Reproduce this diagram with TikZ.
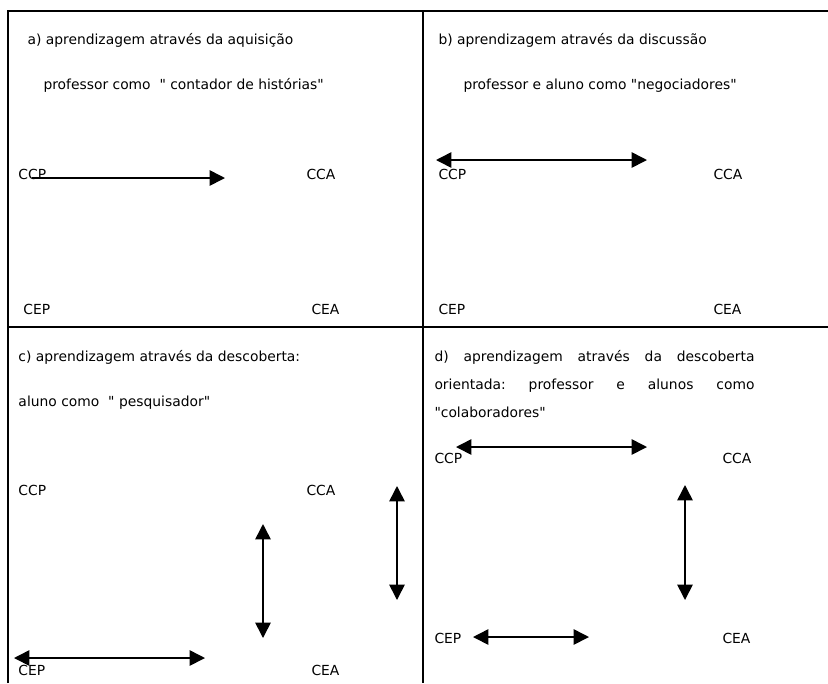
\documentclass[tikz,border=0pt]{standalone}
\usepackage{fontspec}
\setmainfont{DejaVu Sans}[Ligatures=TeXOff]
\usetikzlibrary{arrows.meta}
\frenchspacing

\tikzset{every picture/.style={line width=0.75pt}}
\tikzset{
	frame line/.style={line width=1.5pt},
	arrow line/.style={line width=1.2pt},
	panel text/.style={anchor=base west, inner sep=0.75pt, font=\fontsize{10.4}{12}\selectfont}}

\begin{document}
\begin{tikzpicture}[x=0.75pt,y=0.75pt,yscale=-1,xscale=1,>={Triangle[length=11.5pt,width=11.5pt]}]
	\useasboundingbox (0,0) rectangle (828,683);
	
	%Straight Lines [frame]
	\draw [frame line] (8,683) -- (8,11) -- (828,11) ;
	\draw [frame line] (8,327) -- (828,327) ;
	\draw [frame line] (423,11) -- (423,683) ;
	
	% Text Node
	\node [panel text] (titleA) at (26,44) {a) aprendizagem através da aquisição};
	% Text Node
	\node [panel text] (roleA) at (42,89) {professor como~~" contador de histórias"};
	% Text Node
	\node [panel text] (ccpA) at (17,179) {CCP};
	% Text Node
	\node [panel text] (ccaA) at (305,179) {CCA};
	% Text Node
	\node [panel text] (cepA) at (22,314) {CEP};
	% Text Node
	\node [panel text] (ceaA) at (310,314) {CEA};
	
	% Text Node
	\node [panel text] (titleB) at (437,44) {b) aprendizagem através da discussão};
	% Text Node
	\node [panel text] (roleB) at (462,89) {professor e aluno como "negociadores"};
	% Text Node
	\node [panel text] (ccpB) at (437,179) {CCP};
	% Text Node
	\node [panel text] (ccaB) at (712,179) {CCA};
	% Text Node
	\node [panel text] (cepB) at (437,314) {CEP};
	% Text Node
	\node [panel text] (ceaB) at (712,314) {CEA};
	
	% Text Node
	\node [panel text] (titleC) at (17,361) {c) aprendizagem através da descoberta:};
	% Text Node
	\node [panel text] (roleC) at (17,406) {aluno como~~" pesquisador"};
	% Text Node
	\node [panel text] (ccpC) at (17,495) {CCP};
	% Text Node
	\node [panel text] (ccaC) at (305,495) {CCA};
	% Text Node
	\node [panel text] (cepC) at (17,675) {CEP};
	% Text Node
	\node [panel text] (ceaC) at (310,675) {CEA};
	
	% Text Node
	\node [panel text] (titleD) at (433,361) {\makebox[240pt][s]{d) aprendizagem através da descoberta}};
	% Text Node
	\node [panel text] (roleD) at (433,389) {\makebox[240pt][s]{orientada: professor e alunos como}};
	% Text Node
	\node [panel text] (roleDb) at (433,417) {"colaboradores"};
	% Text Node
	\node [panel text] (ccpD) at (433,463) {CCP};
	% Text Node
	\node [panel text] (ccaD) at (721,463) {CCA};
	% Text Node
	\node [panel text] (cepD) at (433,643) {CEP};
	% Text Node
	\node [panel text] (ceaD) at (721,643) {CEA};
	
	% arrow ends
	\coordinate (a1) at (32,178) ;
	\coordinate (a2) at (225,178) ;
	\coordinate (b1) at (436,160) ;
	\coordinate (b2) at (647,160) ;
	\coordinate (c1) at (263,524) ;
	\coordinate (c2) at (263,638) ;
	\coordinate (c3) at (397,486) ;
	\coordinate (c4) at (397,600) ;
	\coordinate (c5) at (14,658) ;
	\coordinate (c6) at (205,658) ;
	\coordinate (d1) at (456,447) ;
	\coordinate (d2) at (647,447) ;
	\coordinate (d3) at (685,485) ;
	\coordinate (d4) at (685,600) ;
	\coordinate (d5) at (473,637) ;
	\coordinate (d6) at (589,637) ;
	
	%Straight Lines
	\draw [arrow line,->] (a1) -- (a2) ;
	%Straight Lines
	\draw [arrow line,<->] (b1) -- (b2) ;
	%Straight Lines
	\draw [arrow line,<->] (c1) -- (c2) ;
	\draw [arrow line,<->] (c3) -- (c4) ;
	\draw [arrow line,<->] (c5) -- (c6) ;
	%Straight Lines
	\draw [arrow line,<->] (d1) -- (d2) ;
	\draw [arrow line,<->] (d3) -- (d4) ;
	\draw [arrow line,<->] (d5) -- (d6) ;
	
\end{tikzpicture}
\end{document}
